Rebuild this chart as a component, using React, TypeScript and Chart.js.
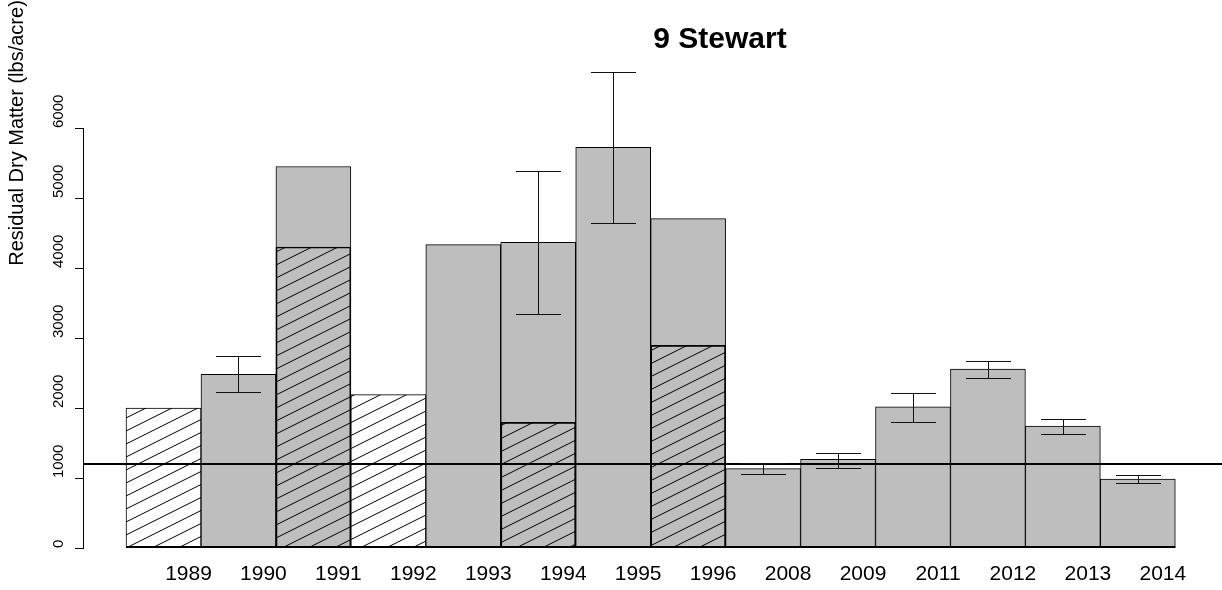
import React, { useEffect, useRef } from 'react';
import { Chart, registerables } from 'chart.js';

Chart.register(...registerables);

const years = ['1989', '1990', '1991', '1992', '1993', '1994', '1995', '1996', '2008', '2009', '2011', '2012', '2013', '2014'];
const totalRdm: (number | null)[] = [null, 2480, 5450, null, 4335, 4365, 5725, 4705, 1135, 1265, 2015, 2555, 1740, 985];
const hatchedRdm: (number | null)[] = [2000, null, 4300, 2190, null, 1795, null, 2895, null, null, null, null, null, null];
const errLow: (number | null)[] = [null, 2225, null, null, null, 3345, 4640, null, 1055, 1150, 1795, 2430, 1630, 930];
const errHigh: (number | null)[] = [null, 2745, null, null, null, 5380, 6805, null, 1215, 1360, 2220, 2670, 1845, 1040];
const yTicks = [0, 1000, 2000, 3000, 4000, 5000, 6000];
const referenceLine = 1200;
const chartTitle = '9 Stewart';
const yTitle = 'Residual Dry Matter (lbs/acre)';

const FAMILY = '"Liberation Sans", Arial, Helvetica, sans-serif';
const GRAY = '#BEBEBE';

export default function App() {
  const ref = useRef<HTMLCanvasElement>(null);

  useEffect(() => {
    const canvas = ref.current;
    if (!canvas) return;
    const mainCtx = canvas.getContext('2d')!;

    const makePattern = (bg: string | null) => {
      const t = document.createElement('canvas');
      t.width = 26;
      t.height = 13;
      const c = t.getContext('2d')!;
      if (bg) {
        c.fillStyle = bg;
        c.fillRect(0, 0, 26, 13);
      }
      c.strokeStyle = '#000';
      c.lineWidth = 1;
      for (const dy of [-13, 0, 13]) {
        c.beginPath();
        c.moveTo(-26, 26 + dy);
        c.lineTo(52, -13 + dy);
        c.stroke();
      }
      return mainCtx.createPattern(t, 'repeat')!;
    };
    const patWhite = makePattern('#FFFFFF');
    const patClear = makePattern(null);

    const overlay = {
      id: 'overlay',
      afterDatasetsDraw(chart: any) {
        const { ctx, chartArea, scales } = chart;
        const x = scales.x;
        const y = scales.y;
        ctx.save();
        // baseline under the bars
        const y0 = y.getPixelForValue(0);
        ctx.strokeStyle = '#000';
        ctx.lineWidth = 2;
        ctx.beginPath();
        ctx.moveTo(x.getPixelForValue(-0.5), y0 - 1);
        ctx.lineTo(x.getPixelForValue(years.length - 0.5), y0 - 1);
        ctx.stroke();
        // reference line
        const yr = Math.round(y.getPixelForValue(referenceLine));
        ctx.lineWidth = 2;
        ctx.beginPath();
        ctx.moveTo(chartArea.left, yr);
        ctx.lineTo(chart.width, yr);
        ctx.stroke();
        // error bars
        const half = (x.getPixelForValue(1) - x.getPixelForValue(0)) * 0.3;
        ctx.lineWidth = 1;
        ctx.strokeStyle = '#111';
        years.forEach((_, i) => {
          const lo = errLow[i];
          const hi = errHigh[i];
          if (lo == null || hi == null) return;
          const cx = Math.round(x.getPixelForValue(i)) + 0.5;
          const yl = Math.round(y.getPixelForValue(lo)) + 0.5;
          const yh = Math.round(y.getPixelForValue(hi)) + 0.5;
          ctx.beginPath();
          ctx.moveTo(cx, yl);
          ctx.lineTo(cx, yh);
          ctx.moveTo(cx - half, yl);
          ctx.lineTo(cx + half, yl);
          ctx.moveTo(cx - half, yh);
          ctx.lineTo(cx + half, yh);
          ctx.stroke();
        });
        ctx.restore();
      },
      afterDraw(chart: any) {
        const { ctx } = chart;
        ctx.save();
        ctx.fillStyle = '#000';
        ctx.font = `bold 30px ${FAMILY}`;
        ctx.textAlign = 'center';
        ctx.textBaseline = 'alphabetic';
        ctx.fillText(chartTitle, 720, 48);
        ctx.translate(23, 133);
        ctx.rotate(-Math.PI / 2);
        ctx.font = `20px ${FAMILY}`;
        ctx.fillText(yTitle, 0, 0);
        ctx.restore();
      },
    };

    const hatchedData = years
      .map((_, i) => ({ x: i, y: hatchedRdm[i] }))
      .filter((p) => p.y != null);
    const totalData = years
      .map((_, i) => ({ x: i, y: totalRdm[i] }))
      .filter((p) => p.y != null);

    const chart = new Chart(canvas, {
      type: 'bar',
      data: {
        datasets: [
          {
            label: 'Hatched',
            data: hatchedData as any,
            backgroundColor: (c: any) =>
              c.raw && totalRdm[c.raw.x] == null ? patWhite : patClear,
            borderColor: '#000',
            borderWidth: 1,
            borderSkipped: false,
            grouped: false,
            barPercentage: 1,
            categoryPercentage: 1,
            order: 0,
          } as any,
          {
            label: 'Total',
            data: totalData as any,
            backgroundColor: GRAY,
            borderColor: '#000',
            borderWidth: 1,
            borderSkipped: false,
            grouped: false,
            barPercentage: 1,
            categoryPercentage: 1,
            order: 1,
          } as any,
        ],
      },
      options: {
        responsive: false,
        animation: false,
        devicePixelRatio: 1,
        layout: { padding: { top: 128, left: 51, right: 0, bottom: 0 } },
        plugins: {
          legend: { display: false },
          title: { display: false },
          tooltip: { enabled: false },
        },
        scales: {
          x: {
            type: 'linear',
            offset: false,
            min: -1.074,
            max: 14.123,
            bounds: 'data',
            grid: { display: false, drawTicks: false, offset: false },
            border: { display: false },
            ticks: {
              autoSkip: false,
              maxRotation: 0,
              minRotation: 0,
              labelOffset: 25,
              padding: 14,
              color: '#000',
              font: { size: 21, family: FAMILY },
              callback: (v: any) => years[v as number] ?? '',
            },
            afterBuildTicks: (s: any) => {
              s.ticks = years.map((_, i) => ({ value: i }));
            },
            afterFit: (s: any) => {
              s.height = 42;
            },
          } as any,
          y: {
            type: 'linear',
            min: 0,
            max: 6000,
            grid: {
              display: true,
              drawOnChartArea: false,
              drawTicks: true,
              tickLength: 8,
              tickColor: '#000',
              tickWidth: 1,
            },
            border: { display: true, color: '#000', width: 1 },
            ticks: {
              autoSkip: false,
              minRotation: 90,
              maxRotation: 90,
              crossAlign: 'far',
              align: 'start',
              color: '#000',
              font: { size: 15, family: FAMILY },
              callback: (v: any) => String(v),
            },
            afterBuildTicks: (s: any) => {
              s.ticks = yTicks.map((v) => ({ value: v }));
            },
            afterFit: (s: any) => {
              s.width = 32;
            },
          } as any,
        },
      },
      plugins: [overlay],
    });

    return () => {
      chart.destroy();
    };
  }, []);

  return (
    <div style={{ position: 'absolute', left: 0, top: 0, width: 1222, height: 590, background: '#fff' }}>
      <canvas ref={ref} width={1222} height={590} style={{ display: 'block', width: 1222, height: 590 }} />
    </div>
  );
}
